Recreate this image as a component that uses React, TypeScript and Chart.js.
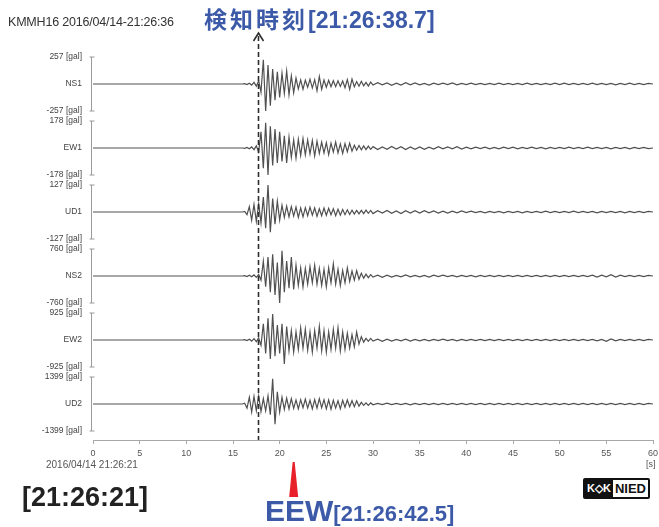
import React, { useEffect, useRef } from "react";
import { Chart, registerables } from "chart.js";

Chart.register(...registerables);

// ---- Data ----
const CHANNELS = ["NS1", "EW1", "UD1", "NS2", "EW2", "UD2"];
const RANGES_GAL = [257, 178, 127, 760, 925, 1399];
const X_TICKS = [0, 5, 10, 15, 20, 25, 30, 35, 40, 45, 50, 55, 60];
const RECORD_START = 0;
const RECORD_END = 60;
const DETECT_T = 17.7; // 21:26:38.7
const EEW_T = 21.5; // 21:26:42.5

// Waveform samples in % of the channel full scale.
// MAIN: t = 15.0 .. 29.75 s, step 0.25 s ; TAIL: t = 30 .. 60 s, step 0.5 s
const MAIN_START = 15;
const MAIN_STEP = 0.25;
const TAIL_START = 30;
const TAIL_STEP = 0.5;

const NS1_MAIN = [
  0, 0, 0, 0, 0, 1, -2, 3, -4, 6, -8, 12, -30, 90, -100, 70,
  -80, 55, -60, 45, -50, 40, -35, 48, -40, 30, -32, 22, -18, 15, -20, 14,
  -12, 18, -15, 16, -25, 28, -20, 15, -12, 14, -10, 12, -10, 12, -9, 11,
  -14, 16, -20, 18, -10, 9, -8, 10, -7, 6, -8, 7,
];
const NS1_TAIL = [
  -4, 5, -3, 4, -5, 3, -4, 5, -3, 4, -3, 2, -4, 3, -2, 3, -2, 4, -3, 2,
  -2, 3, -2, 2, -2, 2, -2, 3, -2, 2, -2, 2, -2, 3, -2, 2, -2, 2, -2, 3,
  -2, 3, -2, 2, -2, 2, -2, 3, -2, 2, -2, 2, -3, 2, -2, 3, -2, 2, -2, 2, 0,
];
const EW1_MAIN = [
  0, 0, 0, 0, 0, -1, 2, -3, 4, -6, 8, -15, 60, -75, 93, -100,
  80, -65, 70, -55, 60, -50, 45, -55, 40, -35, 30, -38, 32, -28, 35, -25,
  30, -22, 28, -30, 25, -20, 22, -18, 20, -25, 18, -15, 22, -18, 15, -20,
  16, -14, 18, -12, 10, -8, 9, -7, 8, -6, 7, -5,
];
const EW1_TAIL = [
  5, -6, 4, -5, 6, -4, 5, -6, 4, -5, 4, -5, 3, -4, 5, -3, 4, -3, 5, -4,
  3, -3, 3, -2, 3, -3, 2, -3, 3, -2, 3, -3, 2, -2, 3, -2, 2, -3, 2, -2,
  2, -2, 3, -2, 2, -2, 3, -2, 2, -2, 2, -3, 2, -2, 2, -3, 2, -2, 2, -2, 0,
];
const UD1_MAIN = [
  0, 0, 0, 0, 0, 2, -10, 20, -30, 28, -35, 30, -40, 55, -60, 100,
  -75, 50, -45, 40, -30, 25, -20, 22, -18, 20, -15, 18, -20, 15, -18, 16,
  -14, 18, -12, 15, -16, 12, -14, 15, -12, 14, -10, 12, -14, 10, -12, 9,
  -10, 8, -9, 7, -8, 6, -7, 6, -6, 7, -5, 6,
];
const UD1_TAIL = [
  -6, 5, -4, 6, -5, 4, -6, 5, -4, 5, -4, 5, -3, 4, -4, 3, -4, 3, -3, 4,
  -2, 3, -2, 2, -3, 2, -2, 2, -3, 2, -2, 2, -3, 2, -2, 2, -2, 3, -2, 2,
  -2, 2, -2, 3, -2, 2, -2, 2, -3, 2, -2, 2, -2, 2, -3, 2, -2, 2, -2, 2, 0,
];
const NS2_MAIN = [
  0, 0, 0, 0, 0, 1, -2, 3, -3, 4, -5, 6, -15, 55, -40, 70,
  -60, 80, -70, 50, -100, 93, -60, 55, -45, 70, -50, 40, -35, 30, -40, 28,
  -30, 35, -25, 40, -30, 28, -35, 25, -40, 30, -25, 45, -30, 25, -35, 20,
  -25, 30, -20, 18, -15, 20, -12, 10, -8, 7, -6, 5,
];
const NS2_TAIL = [
  -4, 3, -5, 3, -4, 2, -3, 4, -3, 2, -3, 2, -4, 3, -2, 3, -2, 2, -3, 2,
  -2, 2, -3, 2, -2, 2, -2, 2, -2, 2, -2, 2, -2, 2, -2, 2, -2, 2, -2, 2,
  -2, 2, -2, 2, -2, 2, -2, 3, -4, 3, -3, 5, -4, 3, -2, 2, -2, 2, -2, 2, 0,
];
const EW2_MAIN = [
  0, 0, 0, 0, 0, 1, -2, 3, -4, 5, -6, 8, -20, 60, -50, 80,
  -70, 96, -60, 55, -50, 60, -89, 50, -40, 35, -45, 30, -35, 45, -30, 40,
  -38, 30, -45, 35, -30, 50, -40, 35, -45, 30, -35, 40, -30, 45, -40, 30,
  -35, 25, -30, 20, -25, 30, -15, 12, -8, 6, -5, 6,
];
const EW2_TAIL = [
  -4, 3, -5, 3, -4, 2, -3, 3, -4, 2, -3, 2, -3, 2, -2, 3, -2, 2, -3, 2,
  -2, 2, -2, 2, -2, 2, -2, 2, -2, 2, -2, 2, -2, 2, -2, 2, -2, 2, -2, 2,
  -2, 2, -2, 2, -2, 2, -2, 2, -3, 2, -5, 4, -3, 2, -2, 2, -2, 2, -2, 2, 0,
];
const UD2_MAIN = [
  0, 0, 0, 0, 0, 3, -15, 25, -30, 28, -25, 30, -28, 20, -25, 30,
  -40, 93, -75, 45, -30, 25, -20, 22, -18, 20, -16, 15, -18, 16, -14, 18,
  -15, 14, -18, 16, -15, 20, -14, 16, -18, 15, -20, 14, -15, 12, -18, 14,
  -12, 15, -10, 12, -10, 12, -8, 6, -5, 4, -5, 4,
];
const UD2_TAIL = [
  -3, 2, -2, 3, -2, 2, -2, 2, -3, 2, -2, 2, -2, 2, -2, 2, -2, 2, -2, 2,
  -2, 2, -2, 2, -2, 2, -2, 2, -2, 2, -2, 2, -2, 2, -2, 2, -2, 2, -2, 2,
  -2, 2, -2, 2, -2, 2, -2, 2, -2, 2, -2, 2, -2, 2, -2, 2, -2, 2, -2, 2, 0,
];

const MAIN_SERIES = [NS1_MAIN, EW1_MAIN, UD1_MAIN, NS2_MAIN, EW2_MAIN, UD2_MAIN];
const TAIL_SERIES = [NS1_TAIL, EW1_TAIL, UD1_TAIL, NS2_TAIL, EW2_TAIL, UD2_TAIL];

// ---- Layout constants (display units of the stacked y axis) ----
const BAND_SPACING = 64;
const BAND_HALF = 27;
const BOTTOM_BASE = 36;
const Y_MAX = 383;

const baseOf = (i: number) => (CHANNELS.length - 1 - i) * BAND_SPACING + BOTTOM_BASE;

const FONT = "'Liberation Sans', Arial, sans-serif";

export default function App() {
  const ref = useRef<HTMLCanvasElement | null>(null);

  useEffect(() => {
    document.body.style.margin = "0";
    const canvas = ref.current;
    if (!canvas) return;

    const datasets = CHANNELS.map((name, i) => {
      const base = baseOf(i);
      const pts: { x: number; y: number }[] = [{ x: RECORD_START, y: base }];
      MAIN_SERIES[i].forEach((v, j) =>
        pts.push({ x: MAIN_START + j * MAIN_STEP, y: base + (v / 100) * BAND_HALF })
      );
      TAIL_SERIES[i].forEach((v, j) =>
        pts.push({ x: TAIL_START + j * TAIL_STEP, y: base + (v / 100) * BAND_HALF })
      );
      return {
        label: name,
        data: pts,
        borderColor: "#505050",
        borderWidth: 1.2,
        pointRadius: 0,
        tension: 0,
        fill: false,
      };
    });

    const tickLabels: Record<number, string> = {};
    const tickValues: number[] = [];
    CHANNELS.forEach((name, i) => {
      const b = baseOf(i);
      tickLabels[b + BAND_HALF] = `${RANGES_GAL[i]} [gal]`;
      tickLabels[b] = name;
      tickLabels[b - BAND_HALF] = `-${RANGES_GAL[i]} [gal]`;
      tickValues.push(b + BAND_HALF, b, b - BAND_HALF);
    });

    const overlay = {
      id: "overlay",
      afterDatasetsDraw(chart: any) {
        const { ctx, chartArea, scales } = chart;
        const xs = scales.x;
        const ys = scales.y;
        ctx.save();
        // band brackets on the left
        ctx.strokeStyle = "#9a9a9a";
        ctx.lineWidth = 1;
        CHANNELS.forEach((_, i) => {
          const b = baseOf(i);
          const t = ys.getPixelForValue(b + BAND_HALF);
          const bo = ys.getPixelForValue(b - BAND_HALF);
          const x = chartArea.left - 1.5;
          ctx.beginPath();
          ctx.moveTo(x, t);
          ctx.lineTo(x, bo);
          ctx.moveTo(x - 2, t);
          ctx.lineTo(x + 3, t);
          ctx.moveTo(x - 2, bo);
          ctx.lineTo(x + 3, bo);
          ctx.stroke();
        });
        // detection dashed line with arrow
        const dx = Math.round(xs.getPixelForValue(DETECT_T)) + 0.5;
        const topY = chartArea.top - 24;
        ctx.strokeStyle = "#2e2e2e";
        ctx.lineWidth = 1.6;
        ctx.setLineDash([5, 3]);
        ctx.beginPath();
        ctx.moveTo(dx, topY + 3);
        ctx.lineTo(dx, chartArea.bottom);
        ctx.stroke();
        ctx.setLineDash([]);
        ctx.beginPath();
        ctx.moveTo(dx - 5, topY + 8);
        ctx.lineTo(dx, topY);
        ctx.lineTo(dx + 5, topY + 8);
        ctx.stroke();
        // EEW red wedge
        const ex = xs.getPixelForValue(EEW_T);
        const wTop = chartArea.bottom + 22;
        const wBot = chartArea.bottom + 57;
        ctx.fillStyle = "#e8202a";
        ctx.beginPath();
        ctx.moveTo(ex - 1, wTop);
        ctx.lineTo(ex + 1, wTop);
        ctx.lineTo(ex + 4.5, wBot);
        ctx.lineTo(ex - 4.5, wBot);
        ctx.closePath();
        ctx.fill();
        ctx.restore();
      },
    };

    const chart = new Chart(canvas, {
      type: "line",
      data: { datasets },
      plugins: [overlay],
      options: {
        animation: false,
        responsive: false,
        maintainAspectRatio: false,
        layout: { padding: { left: 0, right: 6, top: 57, bottom: 0 } },
        plugins: { legend: { display: false }, tooltip: { enabled: false } },
        scales: {
          x: {
            type: "linear",
            min: RECORD_START,
            max: RECORD_END,
            afterBuildTicks: (s: any) => {
              s.ticks = X_TICKS.map((v) => ({ value: v }));
            },
            afterFit: (s: any) => {
              s.height = 87;
              s.paddingRight = 0;
              s.paddingLeft = 0;
            },
            ticks: {
              font: { family: FONT, size: 9 },
              color: "#555",
              padding: 4,
              maxRotation: 0,
            },
            grid: { drawOnChartArea: false, tickLength: 4, color: "#aaa" },
            border: { color: "#a8a8a8", width: 1 },
          },
          y: {
            type: "linear",
            min: 0,
            max: Y_MAX,
            afterBuildTicks: (s: any) => {
              s.ticks = tickValues.map((v) => ({ value: v }));
            },
            afterFit: (s: any) => {
              s.width = 93;
              s.paddingTop = 0;
              s.paddingBottom = 0;
            },
            ticks: {
              autoSkip: false,
              font: { family: FONT, size: 8.5 },
              color: "#444",
              padding: 3,
              callback: (v: any) => tickLabels[v as number] ?? "",
            },
            grid: { display: false },
            border: { display: false },
          },
        },
      },
    });
    return () => chart.destroy();
  }, []);

  const abs = (s: React.CSSProperties): React.CSSProperties => ({
    position: "absolute",
    whiteSpace: "nowrap",
    fontFamily: FONT,
    ...s,
  });

  return (
    <div style={{ position: "relative", width: 659, height: 527, background: "#fff" }}>
      <canvas ref={ref} width={659} height={527} style={{ position: "absolute", left: 0, top: 0 }} />
      <div style={abs({ left: 8, top: 15, fontSize: 12.5, color: "#333", letterSpacing: -0.2 })}>
        KMMH16 2016/04/14-21:26:36
      </div>
      <div style={abs({ left: 204, top: 4, color: "#3c5aa8", fontWeight: 700, lineHeight: "28px" })}>
        <span style={{ fontFamily: "'Noto Sans CJK JP', sans-serif", fontSize: 23, letterSpacing: 3 }}>
          検知時刻
        </span>
        <span style={{ fontSize: 23 }}>[21:26:38.7]</span>
      </div>
      <div style={abs({ left: 46, top: 459, fontSize: 10, color: "#555" })}>2016/04/14 21:26:21</div>
      <div style={abs({ left: 646, top: 459, fontSize: 9, color: "#555" })}>[s]</div>
      <div style={abs({ left: 22, top: 482, fontSize: 27, fontWeight: 700, color: "#222" })}>
        [21:26:21]
      </div>
      <div style={abs({ left: 265, top: 495, color: "#3c5aa8", fontWeight: 700, lineHeight: "32px" })}>
        <span style={{ fontSize: 30 }}>EEW</span>
        <span style={{ fontSize: 22 }}>[21:26:42.5]</span>
      </div>
      <div
        style={abs({
          left: 583,
          top: 478,
          height: 17,
          border: "2px solid #111",
          borderRadius: 2,
          display: "flex",
          alignItems: "center",
          background: "#fff",
        })}
      >
        <span
          style={{
            background: "#111",
            color: "#fff",
            fontWeight: 700,
            fontSize: 11,
            padding: "0 2px",
            height: 17,
            lineHeight: "17px",
          }}
        >
          K◇K
        </span>
        <span style={{ fontWeight: 700, fontSize: 13, color: "#111", padding: "0 2px", lineHeight: "17px" }}>
          NIED
        </span>
      </div>
    </div>
  );
}
